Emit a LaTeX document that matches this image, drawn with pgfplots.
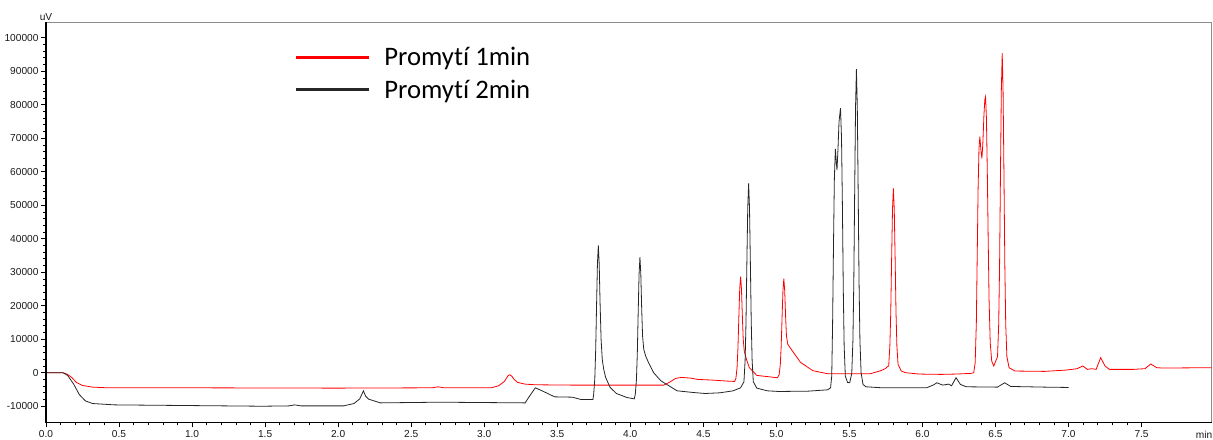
\documentclass[border=0pt]{standalone}
\usepackage{fontspec}
\setmainfont{Liberation Sans}
\newfontfamily\carlito[Ligatures={NoCommon,NoRare,NoContextual}]{Carlito}
\usepackage{pgfplots}
\pgfplotsset{compat=1.18}
\begin{document}
\begin{tikzpicture}
\begin{axis}[
  at={(0,0)}, anchor=south west,
  scale only axis, width=1165.7bp, height=400.3bp,
  xmin=0, xmax=7.98, ymin=-14800, ymax=104700,
  clip=false,
  xtick={0,0.5,1,1.5,2,2.5,3,3.5,4,4.5,5,5.5,6,6.5,7,7.5}, minor x tick num=4,
  ytick={-10000,0,10000,20000,30000,40000,50000,60000,70000,80000,90000,100000}, minor y tick num=4,
  tick pos=left, tick align=outside,
  major tick length=5bp, minor tick length=3bp,
  every tick/.style={black, line width=0.7bp},
  axis line style={draw=black!45, line width=0.8bp},
  tick label style={font=\fontsize{10.2}{12}\selectfont, text=black!90},
  yticklabel style={xshift=1bp},
  /pgf/number format/assume math mode=true,
  x tick label style={/pgf/number format/.cd, fixed, fixed zerofill, precision=1},
  y tick label style={/pgf/number format/.cd, fixed, 1000 sep={}},
  scaled y ticks=false,
  legend style={at={(0.2104,0.9475)}, anchor=north west, draw=none, fill=none,
    font=\carlito\fontsize{26.8}{31}\selectfont, row sep=9bp},
  legend cell align=left,
  legend image code/.code={\draw[#1, line width=3bp] (0bp,0bp) -- (73bp,0bp); \path (86bp,0bp);},
]
\addplot[red, line width=0.8bp] coordinates {
(0,0) (0.117,0) (0.148,-500) (0.178,-1500) (0.208,-2900) (0.249,-3800) (0.319,-4300) (0.420,-4500)
(0.976,-4500) (1.987,-4600) (2.643,-4500) (2.684,-4200) (2.724,-4500) (3.047,-4500) (3.098,-3900)
(3.138,-2600) (3.163,-900) (3.175,-600) (3.188,-1000) (3.205,-2000) (3.229,-2900) (3.28,-3400) (3.35,-3600)
(3.603,-3700) (4.007,-3700) (4.229,-3700) (4.270,-2800) (4.310,-1700) (4.350,-1400) (4.411,-1600)
(4.462,-2000) (4.563,-2200) (4.664,-2500) (4.714,-2600)
(4.723,-1700) (4.731,1600) (4.737,7400) (4.743,16500) (4.749,25000) (4.755,28700) (4.761,25000)
(4.767,17000) (4.773,10000) (4.780,6500) (4.795,4000) (4.815,1500) (4.866,-800) (4.947,-1200) (5.007,-1500)
(5.019,-600) (5.027,2500) (5.033,8000) (5.039,16600) (5.045,24500) (5.051,28100) (5.057,24500)
(5.063,17000) (5.069,11000) (5.078,8500) (5.108,6600) (5.165,3100) (5.250,600) (5.351,-300)
(5.47,-300) (5.644,-300) (5.714,600) (5.725,800) (5.745,1200) (5.760,1800)
(5.769,2000) (5.777,8200) (5.783,18000) (5.789,34000) (5.795,48800) (5.801,55000) (5.807,48800)
(5.813,34000) (5.819,18000) (5.825,8000) (5.833,2500) (5.855,500) (5.886,0) (5.977,-400)
(6.129,-500) (6.230,-400) (6.331,-200)
(6.351,0) (6.361,3000) (6.369,15000) (6.375,35000) (6.381,55000) (6.387,67000) (6.393,70450)
(6.401,66000) (6.407,64000) (6.413,68000) (6.421,77000) (6.427,81500) (6.432,82400) (6.438,76000)
(6.444,60000) (6.450,40000) (6.456,22000) (6.464,9000) (6.474,3500) (6.488,2000)
(6.514,4800) (6.522,14600) (6.528,32000) (6.534,59000) (6.540,84200) (6.546,95400) (6.552,84200)
(6.558,59000) (6.564,32000) (6.570,14600) (6.578,4800) (6.593,1500) (6.634,500) (6.836,400)
(6.987,800) (7.058,1200) (7.098,2000) (7.129,1000) (7.159,1200) (7.189,1000) (7.220,4500)
(7.250,2000) (7.280,1000) (7.442,1000) (7.523,1200) (7.563,2600) (7.604,1500) (7.644,1400) (7.98,1500)
};
\addlegendentry{Promytí 1min}
\addplot[black!85, line width=0.8bp] coordinates {
(0,0) (0.117,0) (0.148,-800) (0.188,-3300) (0.228,-6500) (0.269,-8400) (0.319,-9200) (0.471,-9600)
(0.976,-9800) (1.481,-10000) (1.663,-9900) (1.703,-9600) (1.744,-9900) (2.037,-9900) (2.108,-9200)
(2.148,-7800) (2.173,-5400) (2.188,-7000) (2.209,-7900) (2.289,-9000) (2.694,-8800) (3.280,-9000)
(3.310,-7000) (3.350,-4500) (3.401,-5500) (3.482,-7200) (3.603,-7300) (3.663,-8000) (3.744,-8000)
(3.749,-6600) (3.757,-1800) (3.763,6700) (3.769,20000) (3.775,32500) (3.781,38000) (3.787,32500)
(3.793,21000) (3.800,10000) (3.808,4000) (3.818,1000) (3.832,-1500) (3.862,-4400) (3.905,-6200)
(3.977,-7400) (4.027,-7800)
(4.034,-6500) (4.042,-2100) (4.048,5700) (4.054,18000) (4.060,29400) (4.066,34500) (4.072,29400)
(4.078,19000) (4.084,11000) (4.092,7000) (4.105,5000) (4.125,3000) (4.160,0) (4.209,-2400)
(4.320,-5400) (4.431,-5900) (4.512,-6200) (4.613,-6000) (4.704,-5400) (4.755,-4500)
(4.778,-2700) (4.786,3700) (4.792,15000) (4.798,32700) (4.804,49200) (4.810,56500) (4.816,49200)
(4.822,32700) (4.828,15000) (4.834,3700) (4.842,-2700) (4.866,-4600) (4.937,-5400) (5.017,-5600)
(5.219,-5500) (5.351,-5100)
(5.371,-4500) (5.379,-1000) (5.385,15000) (5.391,38000) (5.397,58000) (5.404,66800) (5.410,63000)
(5.415,60500) (5.421,66000) (5.429,75000) (5.439,79000) (5.446,70000) (5.452,50000) (5.458,25000)
(5.464,8000) (5.472,-1000) (5.487,-2900) (5.502,-3000)
(5.516,-200) (5.524,9600) (5.530,27000) (5.536,54000) (5.542,79400) (5.548,90600) (5.554,79400)
(5.560,54000) (5.566,27000) (5.572,9600) (5.580,0) (5.593,-3500) (5.613,-4200) (5.725,-4500)
(6.028,-4500) (6.078,-3600) (6.098,-3000) (6.139,-3700) (6.179,-3400) (6.199,-3900) (6.230,-1500)
(6.260,-3500) (6.300,-4200) (6.513,-4300) (6.563,-3000) (6.604,-4100) (6.836,-4300) (7.00,-4400)
};
\addlegendentry{Promytí 2min}
\draw[black, line width=1.3bp] (rel axis cs:0,1) -- (rel axis cs:0,0) -- (rel axis cs:1,0);
\node[anchor=south, font=\fontsize{10.2}{12}\selectfont, text=black!90, inner sep=1bp] at ([xshift=0bp,yshift=0bp]rel axis cs:0,1) {uV};
\node[anchor=north west, font=\fontsize{10.2}{12}\selectfont, text=black!90, inner sep=1bp] at ([xshift=-17bp,yshift=-8bp]rel axis cs:1,0) {min};
\end{axis}
\pgfresetboundingbox
\useasboundingbox (-46bp,-17bp) rectangle (1167bp,422.3bp);
\end{tikzpicture}
\end{document}
